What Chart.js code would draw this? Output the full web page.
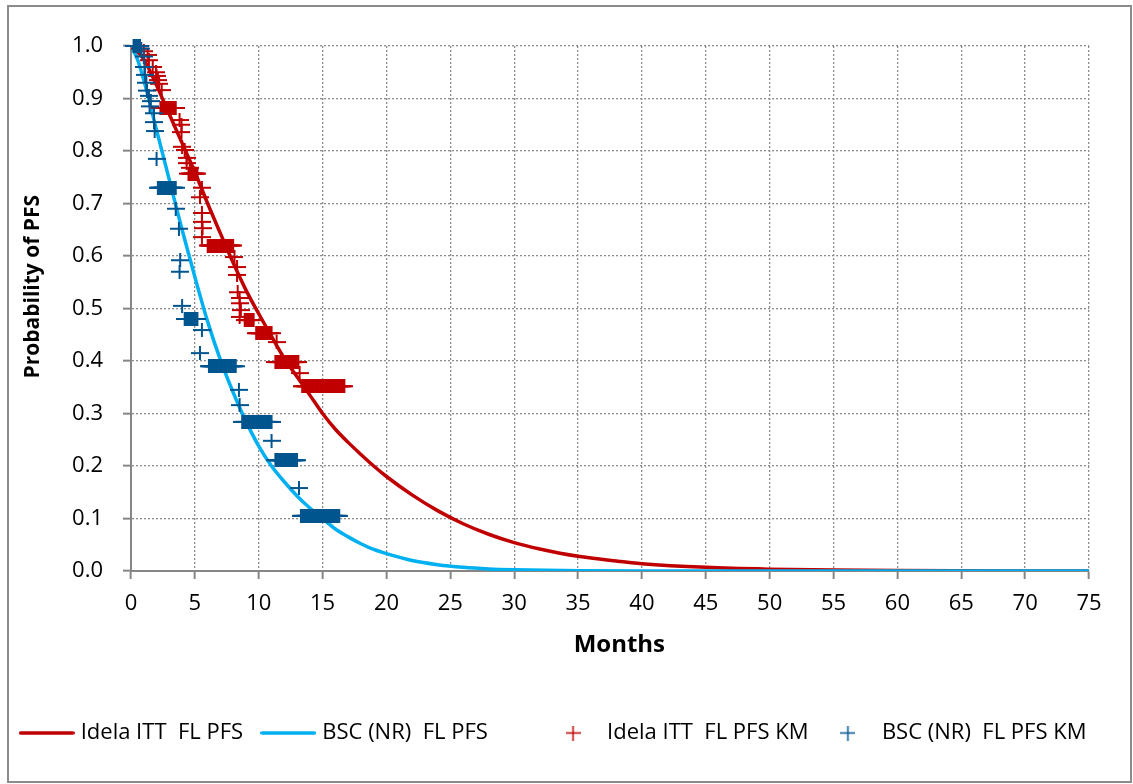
<!DOCTYPE html>
<html>
<head>
<meta charset="utf-8">
<script src="https://cdn.jsdelivr.net/npm/chart.js@4.4.0/dist/chart.umd.min.js"></script>
<style>
  html, body { margin: 0; padding: 0; background: #fff; }
  #wrap { position: relative; width: 1133px; height: 784px; }
  #frame { position: absolute; left: 7px; top: 5px; width: 1121px; height: 774px; border: 2px solid #8c8c8c; pointer-events: none; }
  canvas { display: block; }
</style>
</head>
<body>
<div id="wrap">
  <canvas id="chart" width="1133" height="784"></canvas>
  <div id="frame"></div>
</div>
<script>
const FONT = "'Open Sans', sans-serif";
const COLORS = {
  idelaCurve: "#c00000",
  bscCurve: "#00b0f0",
  idelaKm: "#c00000",
  bscKm: "#00558f",
  axis: "#868686",
  grid: "#8c8c8c",
};

// trailing spaces only widen the legend columns
const LABELS = [
  "Idela ITT  FL PFS   ",
  "BSC (NR)  FL PFS          ",
  "Idela ITT  FL PFS KM  ",
  "BSC (NR)  FL PFS KM    ",
];

// fitted curves, [months, probability]
const IDELA_CURVE = [
  [0, 1], [1, 0.975], [2, 0.925], [3, 0.87], [4, 0.815], [5, 0.76], [6, 0.7], [7, 0.643],
  [8, 0.587], [9, 0.535], [10, 0.49], [11, 0.447], [12, 0.405], [13, 0.37], [14, 0.335],
  [15, 0.3], [16, 0.27], [17, 0.245], [18, 0.222], [19, 0.2], [20, 0.18], [22, 0.145],
  [24, 0.115], [26, 0.09], [28, 0.07], [30, 0.054], [32, 0.042], [35, 0.028], [38, 0.019],
  [40, 0.014], [45, 0.007], [50, 0.0035], [55, 0.0017], [60, 0.0008], [65, 0.0004],
  [70, 0.0002], [75, 0.0001],
];

const BSC_CURVE = [
  [0, 1], [0.5, 0.975], [1, 0.935], [2, 0.84], [3, 0.745], [4, 0.65], [5, 0.56], [6, 0.475],
  [7, 0.402], [8, 0.34], [9, 0.285], [10, 0.238], [11, 0.2], [12, 0.17], [13, 0.143],
  [14, 0.12], [15, 0.1], [16, 0.08], [17, 0.065], [18, 0.052], [19, 0.041], [20, 0.033],
  [22, 0.02], [24, 0.012], [26, 0.007], [28, 0.004], [30, 0.0025], [35, 0.0006],
  [40, 0.0001], [50, 0], [75, 0],
];

// Kaplan-Meier censor marks, [months, probability]
const IDELA_KM = [
  [0.7, 0.995], [1.0, 0.99], [1.3, 0.983], [1.4, 0.973], [1.7, 0.96], [1.95, 0.95], [2.0, 0.943],
  [2.1, 0.935], [2.2, 0.928], [2.4, 0.916],
  [2.3, 0.882], [2.4, 0.882], [2.5, 0.882], [2.6, 0.882], [2.7, 0.882], [2.8, 0.882], [2.9, 0.882],
  [3.0, 0.882], [3.1, 0.882], [3.2, 0.882], [3.3, 0.882], [3.4, 0.882], [3.5, 0.882],
  [3.8, 0.859], [3.95, 0.85], [3.95, 0.836], [4.0, 0.808], [4.2, 0.802], [4.35, 0.787],
  [4.35, 0.777], [4.6, 0.768],
  [4.5, 0.757], [4.6, 0.757], [4.7, 0.757], [4.8, 0.757], [4.9, 0.757], [5.0, 0.757], [5.1, 0.757],
  [5.2, 0.757],
  [5.55, 0.73], [5.4, 0.712], [5.55, 0.682], [5.55, 0.665], [5.6, 0.653], [5.55, 0.636],
  [6.0, 0.62], [6.1, 0.62], [6.2, 0.62], [6.3, 0.62], [6.4, 0.62], [6.5, 0.62], [6.6, 0.62],
  [6.7, 0.62], [6.8, 0.62], [6.9, 0.62], [7.0, 0.62], [7.1, 0.62], [7.2, 0.62], [7.3, 0.62],
  [7.4, 0.62], [7.5, 0.62], [7.6, 0.62], [7.7, 0.62], [7.8, 0.62], [7.9, 0.62], [8.0, 0.62],
  [8.1, 0.598], [8.3, 0.579], [8.3, 0.564], [8.35, 0.531], [8.5, 0.52], [8.5, 0.51], [8.6, 0.497],
  [8.5, 0.484],
  [8.9, 0.478], [9.0, 0.478], [9.1, 0.478], [9.2, 0.478], [9.3, 0.478], [9.4, 0.478], [9.5, 0.478],
  [9.6, 0.478],
  [9.8, 0.453], [9.9, 0.453], [10.0, 0.453], [10.1, 0.453], [10.2, 0.453], [10.3, 0.453],
  [10.4, 0.453], [10.5, 0.453], [10.6, 0.453], [10.7, 0.453], [10.8, 0.453], [10.9, 0.453],
  [11.0, 0.453],
  [11.4, 0.436],
  [11.3, 0.398], [11.4, 0.398], [11.5, 0.398], [11.6, 0.398], [11.7, 0.398], [11.8, 0.398],
  [11.9, 0.398], [12.0, 0.398], [12.1, 0.398], [12.2, 0.398], [12.3, 0.398], [12.4, 0.398],
  [12.5, 0.398], [12.6, 0.398], [12.7, 0.398], [12.8, 0.398], [12.9, 0.398], [13.0, 0.398],
  [13.1, 0.398],
  [13.2, 0.377],
  [13.4, 0.352], [13.5, 0.352], [13.6, 0.352], [13.7, 0.352], [13.8, 0.352], [13.9, 0.352],
  [14.0, 0.352], [14.1, 0.352], [14.2, 0.352], [14.3, 0.352], [14.4, 0.352], [14.5, 0.352],
  [14.6, 0.352], [14.7, 0.352], [14.8, 0.352], [14.9, 0.352], [15.0, 0.352], [15.1, 0.352],
  [15.2, 0.352], [15.3, 0.352], [15.4, 0.352], [15.5, 0.352], [15.6, 0.352], [15.7, 0.352],
  [15.8, 0.352], [15.9, 0.352], [16.0, 0.352], [16.1, 0.352], [16.2, 0.352], [16.3, 0.352],
  [16.4, 0.352], [16.5, 0.352], [16.6, 0.352], [16.7, 0.352],
];

const BSC_KM = [
  [0.2, 1.0], [0.3, 1.0], [0.4, 1.0], [0.5, 1.0], [0.6, 1.0], [0.7, 1.0], [0.8, 0.995],
  [1.0, 0.98], [1.05, 0.96], [1.1, 0.945], [1.2, 0.93], [1.25, 0.915], [1.4, 0.905], [1.55, 0.895],
  [1.45, 0.885], [1.8, 0.872], [1.8, 0.855], [1.85, 0.838], [2.0, 0.785],
  [2.1, 0.73], [2.2, 0.73], [2.3, 0.73], [2.4, 0.73], [2.5, 0.73], [2.6, 0.73], [2.7, 0.73],
  [2.8, 0.73], [2.9, 0.73], [3.0, 0.73], [3.1, 0.73], [3.2, 0.73], [3.3, 0.73], [3.4, 0.73],
  [3.5, 0.73],
  [3.5, 0.69], [3.75, 0.652], [3.85, 0.592], [3.8, 0.57], [4.0, 0.505],
  [4.2, 0.48], [4.3, 0.48], [4.4, 0.48], [4.5, 0.48], [4.6, 0.48], [4.7, 0.48], [4.8, 0.48],
  [4.9, 0.48], [5.0, 0.48], [5.1, 0.48], [5.2, 0.48],
  [5.55, 0.459], [5.4, 0.415],
  [6.1, 0.39], [6.2, 0.39], [6.3, 0.39], [6.4, 0.39], [6.5, 0.39], [6.6, 0.39], [6.7, 0.39],
  [6.8, 0.39], [6.9, 0.39], [7.0, 0.39], [7.1, 0.39], [7.2, 0.39], [7.3, 0.39], [7.4, 0.39],
  [7.5, 0.39], [7.6, 0.39], [7.7, 0.39], [7.8, 0.39], [7.9, 0.39], [8.0, 0.39], [8.1, 0.39],
  [8.2, 0.39],
  [8.45, 0.345], [8.5, 0.316],
  [8.7, 0.284], [8.8, 0.284], [8.9, 0.284], [9.0, 0.284], [9.1, 0.284], [9.2, 0.284], [9.3, 0.284],
  [9.4, 0.284], [9.5, 0.284], [9.6, 0.284], [9.7, 0.284], [9.8, 0.284], [9.9, 0.284], [10.0, 0.284],
  [10.1, 0.284], [10.2, 0.284], [10.3, 0.284], [10.4, 0.284], [10.5, 0.284], [10.6, 0.284],
  [10.7, 0.284], [10.8, 0.284], [10.9, 0.284], [11.0, 0.284],
  [11.0, 0.248],
  [11.3, 0.211], [11.4, 0.211], [11.5, 0.211], [11.6, 0.211], [11.7, 0.211], [11.8, 0.211],
  [11.9, 0.211], [12.0, 0.211], [12.1, 0.211], [12.2, 0.211], [12.3, 0.211], [12.4, 0.211],
  [12.5, 0.211], [12.6, 0.211], [12.7, 0.211], [12.8, 0.211], [12.9, 0.211], [13.0, 0.211],
  [13.15, 0.158],
  [13.3, 0.105], [13.4, 0.105], [13.5, 0.105], [13.6, 0.105], [13.7, 0.105], [13.8, 0.105],
  [13.9, 0.105], [14.0, 0.105], [14.1, 0.105], [14.2, 0.105], [14.3, 0.105], [14.4, 0.105],
  [14.5, 0.105], [14.6, 0.105], [14.7, 0.105], [14.8, 0.105], [14.9, 0.105], [15.0, 0.105],
  [15.1, 0.105], [15.2, 0.105], [15.3, 0.105], [15.4, 0.105], [15.5, 0.105], [15.6, 0.105],
  [15.7, 0.105], [15.8, 0.105], [15.9, 0.105], [16.0, 0.105], [16.1, 0.105], [16.2, 0.105],
  [16.3, 0.105],
];

function toPoints(pairs) {
  return pairs.map(([x, y]) => ({ x, y }));
}

// wide, flat cross like the spreadsheet marker
function makeCross(color, w, h, lw) {
  const c = document.createElement("canvas");
  c.width = w;
  c.height = h;
  const ctx = c.getContext("2d");
  ctx.fillStyle = color;
  ctx.fillRect(0, (h - lw) / 2, w, lw);
  ctx.fillRect((w - lw) / 2, 0, lw, h);
  return c;
}

function makeLine(color, w, lw) {
  const c = document.createElement("canvas");
  c.width = w;
  c.height = 6;
  const ctx = c.getContext("2d");
  ctx.strokeStyle = color;
  ctx.lineWidth = lw;
  ctx.lineCap = "round";
  ctx.beginPath();
  ctx.moveTo(lw / 2, 3);
  ctx.lineTo(w - lw / 2, 3);
  ctx.stroke();
  return c;
}

const LEGEND_ICONS = [
  makeLine(COLORS.idelaCurve, 56, 3.5),
  makeLine(COLORS.bscCurve, 56, 3.5),
  makeCross(COLORS.idelaKm, 15, 15, 1.5),
  makeCross(COLORS.bscKm, 15, 15, 1.5),
];

function curveDataset(label, pairs, color, order) {
  return {
    label,
    data: toPoints(pairs),
    showLine: true,
    borderColor: color,
    backgroundColor: color,
    borderWidth: 3.5,
    pointRadius: 0,
    cubicInterpolationMode: "monotone",
    order,
  };
}

function kmDataset(label, pairs, color, order) {
  return {
    label,
    data: toPoints(pairs),
    showLine: false,
    pointStyle: makeCross(color, 18, 14, 2),
    pointRadius: 6,
    borderColor: color,
    backgroundColor: color,
    clip: false,
    order,
  };
}

function axisGrid() {
  return {
    color: COLORS.grid,
    lineWidth: 1.3,
    tickColor: COLORS.axis,
    tickLength: 8,
    tickWidth: 2,
    tickBorderDash: [],
  };
}

const tickFont = { family: FONT, size: 22 };

new Chart(document.getElementById("chart"), {
  type: "scatter",
  data: {
    datasets: [
      curveDataset(LABELS[0], IDELA_CURVE, COLORS.idelaCurve, 3),
      curveDataset(LABELS[1], BSC_CURVE, COLORS.bscCurve, 2),
      kmDataset(LABELS[2], IDELA_KM, COLORS.idelaKm, 1),
      kmDataset(LABELS[3], BSC_KM, COLORS.bscKm, 0),
    ],
  },
  options: {
    responsive: false,
    devicePixelRatio: 1,
    animation: false,
    layout: { padding: { left: 0, top: 46, right: 0, bottom: 30 } },
    scales: {
      x: {
        type: "linear",
        min: 0,
        max: 75,
        ticks: { stepSize: 5, color: "#000", font: tickFont, padding: 12, maxRotation: 0, autoSkip: false },
        grid: axisGrid(),
        border: { color: COLORS.axis, width: 2, dash: [2, 2] },
        title: {
          display: true,
          text: "   Months",
          color: "#000",
          font: { family: FONT, size: 24, weight: "bold" },
          padding: { top: 0, bottom: 57 },
        },
        afterFit: (s) => { s.height = 146; },
      },
      y: {
        min: 0,
        max: 1,
        ticks: { stepSize: 0.1, color: "#000", font: tickFont, padding: 20, callback: (v) => v.toFixed(1) },
        grid: axisGrid(),
        border: { color: COLORS.axis, width: 2, dash: [2, 2] },
        title: {
          display: true,
          text: "        Probability of PFS",
          color: "#000",
          font: { family: FONT, size: 21, weight: "bold" },
          padding: { top: 20, bottom: 0 },
        },
        afterFit: (s) => { s.width = 131; },
      },
      // empty right-hand scale, only reserves the gap right of the plot
      yRight: {
        position: "right",
        display: true,
        ticks: { display: false },
        grid: { display: false, drawTicks: false },
        border: { display: false },
        afterFit: (s) => { s.width = 44; },
      },
    },
    plugins: {
      tooltip: { enabled: false },
      legend: {
        position: "bottom",
        labels: {
          usePointStyle: true,
          pointStyleWidth: 46,
          padding: 5,
          color: "#000",
          font: { family: FONT, size: 22 },
          generateLabels: (chart) =>
            chart.data.datasets.map((ds, i) => ({
              text: ds.label,
              pointStyle: LEGEND_ICONS[i],
              datasetIndex: i,
              hidden: false,
              lineWidth: 0,
              fillStyle: "transparent",
              strokeStyle: "transparent",
              fontColor: "#000",
            })),
        },
      },
    },
  },
});
</script>
</body>
</html>
